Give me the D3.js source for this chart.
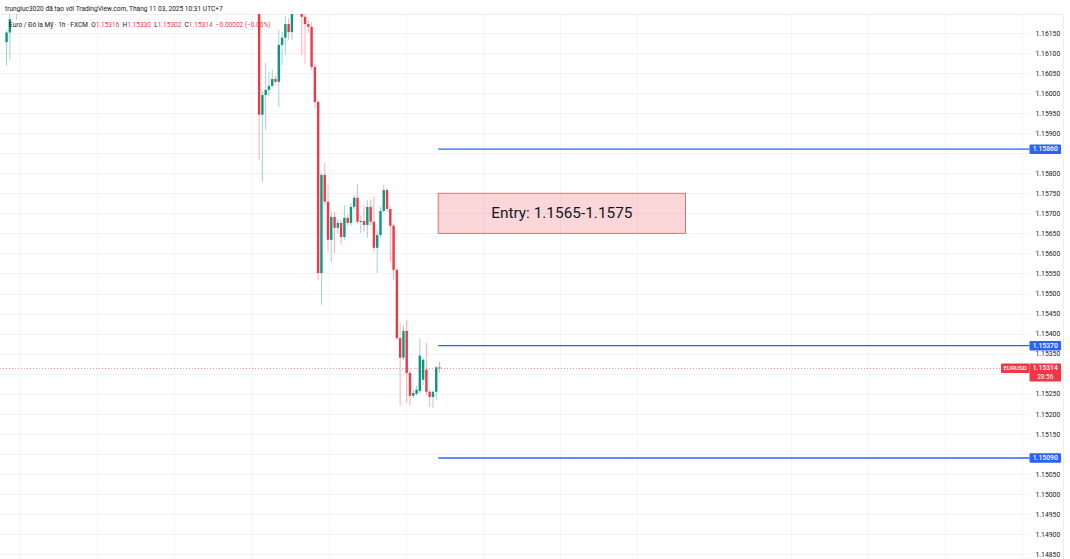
<!DOCTYPE html>
<html><head><meta charset="utf-8">
<script src="https://cdn.jsdelivr.net/npm/d3@7"></script>
<style>
html,body{margin:0;padding:0;background:#fff;}
svg{display:block;font-family:Roboto,'Liberation Sans',sans-serif;}
</style></head><body>
<svg id="chart" width="1070" height="559"></svg>
<script>
// ---------- data ----------
const candleIndex = [-77,-76,-74,
  0,1,2,3,4,5,6,7,8,9,10,
  13,14,15,16,17,18,19,20,21,22,23,24,25,26,27,28,29,30,31,32,33,34,
  35,36,37,38,39,40,41,42,43,44,45,46,47,48,49,50,51,52,53,54,55];
const openPrices = [1.16127,1.16151,1.16265,
  1.16265,1.15946,1.15995,1.16008,1.16018,1.16035,1.16028,1.16120,1.16138,1.16172,1.16152,
  1.16250,1.16190,1.16172,1.16165,1.16065,1.15978,1.15551,1.15796,1.15729,1.15634,1.15691,1.15664,1.15676,1.15641,1.15689,1.15676,1.15716,1.15739,1.15679,1.15681,1.15671,1.15716,
  1.15679,1.15614,1.15646,1.15706,1.15758,1.15711,1.15669,1.15559,1.15389,1.15340,1.15407,1.15302,1.15245,1.15250,1.15257,1.15285,1.15310,1.15255,1.15242,1.15255,1.15316];
const highPrices = [1.16157,1.16215,1.16290,
  1.16290,1.16005,1.16075,1.16053,1.16058,1.16043,1.16157,1.16152,1.16192,1.16187,1.16260,
  1.16270,1.16205,1.16182,1.16177,1.16073,1.15983,1.15801,1.15826,1.15771,1.15704,1.15704,1.15686,1.15684,1.15721,1.15699,1.15726,1.15746,1.15773,1.15694,1.15719,1.15734,1.15734,
  1.15741,1.15659,1.15716,1.15771,1.15763,1.15719,1.15674,1.15564,1.15427,1.15422,1.15434,1.15310,1.15260,1.15270,1.15389,1.15340,1.15377,1.15260,1.15257,1.15320,1.15330];
const lowPrices = [1.16068,1.16083,1.16182,
  1.15833,1.15778,1.15908,1.15993,1.16013,1.16023,1.15965,1.16070,1.16095,1.16133,1.16133,
  1.16095,1.16073,1.16150,1.16058,1.15963,1.15534,1.15472,1.15721,1.15604,1.15579,1.15601,1.15651,1.15621,1.15634,1.15669,1.15669,1.15709,1.15674,1.15651,1.15654,1.15639,1.15669,
  1.15604,1.15551,1.15641,1.15701,1.15704,1.15579,1.15534,1.15384,1.15220,1.15335,1.15227,1.15220,1.15240,1.15245,1.15250,1.15272,1.15247,1.15217,1.15215,1.15235,1.15302];
const closePrices = [1.16151,1.16184,1.16212,
  1.15946,1.15995,1.16008,1.16018,1.16035,1.16028,1.16120,1.16138,1.16172,1.16152,1.16240,
  1.16190,1.16172,1.16165,1.16065,1.15978,1.15551,1.15796,1.15729,1.15634,1.15691,1.15664,1.15676,1.15641,1.15689,1.15676,1.15716,1.15739,1.15679,1.15681,1.15671,1.15716,1.15679,
  1.15614,1.15646,1.15706,1.15758,1.15711,1.15669,1.15559,1.15389,1.15340,1.15407,1.15302,1.15245,1.15252,1.15260,1.15345,1.15335,1.15255,1.15242,1.15255,1.15316,1.15314];

const priceTicks = [1.16150,1.16100,1.16050,1.16000,1.15950,1.15900,1.15850,1.15800,1.15750,1.15700,
  1.15650,1.15600,1.15550,1.15500,1.15450,1.15400,1.15350,1.15300,1.15250,1.15200,1.15150,1.15100,
  1.15050,1.15000,1.14950,1.14900,1.14850];
const timeGridBars = [-72.8,-49.3,-25.8,-2.3,21.2,44.7,68.2,91.7,115.2,162.2,185.7,209.2,232.7];
const levelPrices = [1.15860, 1.15370, 1.15090];
const entryZone = [1.1565, 1.1575];
const entryBars = [54.6, 130];
const lastBar = 54.6;
const lastPrice = 1.15314;

const headerCredit = "trungluc3020 đã tạo với TradingView.com, Tháng 11 03, 2025 10:31 UTC+7";
const symbolTitle = "Euro / Đô la Mỹ · 1h · FXCM";
const ohlcLabels = ["O","H","L","C"];
const ohlcValues = ["1.15316","1.15330","1.15302","1.15314"];
const changeText = "−0.00002 (−0.00%)";
const symbolCode = "EURUSD";
const countdown = "28:56";
const entryLabel = "Entry: 1.1565-1.1575";

// ---------- setup ----------
const W = 1070, H = 559, paneTop = 14, paneRight = 1029.5, axisRight = 1063;
const UP = "#089981", DOWN = "#F23645", BLUE = "#2962FF", TXT = "#131722";

const svg = d3.select("#chart");
const x = d3.scaleLinear().domain([-79, 235]).range([0, 1029.9]);
const y = d3.scaleLinear().domain([1.14838, 1.16232]).range([H, 0]);

const candles = candleIndex.map((d, i) => ({
  i: d, o: openPrices[i], h: highPrices[i], l: lowPrices[i], c: closePrices[i]
}));

svg.append("rect").attr("width", W).attr("height", H).attr("fill", "#fff");

svg.append("defs").append("clipPath").attr("id", "pane")
  .append("rect").attr("x", 0).attr("y", paneTop).attr("width", paneRight).attr("height", H - paneTop);

// grid
const grid = svg.append("g");
grid.selectAll("line.h").data(priceTicks).join("line")
  .attr("x1", 0).attr("x2", paneRight)
  .attr("y1", d => Math.round(y(d)) + 0.5).attr("y2", d => Math.round(y(d)) + 0.5)
  .attr("stroke", "#f1f3f7").attr("stroke-width", 1);
grid.selectAll("line.v").data(timeGridBars).join("line")
  .attr("x1", d => Math.round(x(d)) + 0.5).attr("x2", d => Math.round(x(d)) + 0.5)
  .attr("y1", paneTop).attr("y2", H)
  .attr("stroke", "#f4f5f8").attr("stroke-width", 1);

// pane border
svg.append("line").attr("x1", 0).attr("x2", axisRight).attr("y1", paneTop + 0.5).attr("y2", paneTop + 0.5)
  .attr("stroke", "#eceef2");
svg.append("line").attr("x1", axisRight + 0.5).attr("x2", axisRight + 0.5).attr("y1", paneTop).attr("y2", H)
  .attr("stroke", "#eceef2");

// candles
const cg = svg.append("g").attr("clip-path", "url(#pane)");
const col = d => d.c >= d.o ? UP : DOWN;
cg.selectAll("line.wick").data(candles).join("line")
  .attr("x1", d => x(d.i)).attr("x2", d => x(d.i))
  .attr("y1", d => y(d.h)).attr("y2", d => y(d.l))
  .attr("stroke", col).attr("stroke-opacity", 0.4).attr("stroke-width", 1);
cg.selectAll("rect.body").data(candles).join("rect")
  .attr("x", d => x(d.i) - 1.2).attr("width", 2.4)
  .attr("y", d => y(Math.max(d.o, d.c)))
  .attr("height", d => Math.max(1, Math.abs(y(d.o) - y(d.c))))
  .attr("fill", col);

// entry zone
const ez = svg.append("g");
ez.append("rect")
  .attr("x", x(entryBars[0])).attr("width", x(entryBars[1]) - x(entryBars[0]))
  .attr("y", y(entryZone[1])).attr("height", y(entryZone[0]) - y(entryZone[1]))
  .attr("fill", "rgba(242,54,69,0.2)").attr("stroke", "#ec6a74").attr("stroke-width", 1);
ez.append("text")
  .attr("x", (x(entryBars[0]) + x(entryBars[1])) / 2)
  .attr("y", (y(entryZone[0]) + y(entryZone[1])) / 2)
  .attr("text-anchor", "middle").attr("dominant-baseline", "central")
  .attr("font-size", 15.4).attr("fill", TXT).text(entryLabel);

// last price dotted line
svg.append("line")
  .attr("x1", 0).attr("x2", 1001)
  .attr("y1", Math.round(y(lastPrice)) + 0.5).attr("y2", Math.round(y(lastPrice)) + 0.5)
  .attr("stroke", DOWN).attr("stroke-opacity", 0.55).attr("stroke-dasharray", "1,2");

// horizontal levels
svg.append("g").selectAll("line").data(levelPrices).join("line")
  .attr("x1", x(lastBar)).attr("x2", paneRight)
  .attr("y1", d => y(d)).attr("y2", d => y(d))
  .attr("stroke", BLUE).attr("stroke-width", 1.4);

// price axis (labels hidden behind the price boxes are not drawn)
const boxed = levelPrices.concat([lastPrice, lastPrice - 0.00022]);
const visibleTicks = priceTicks.filter(t => boxed.every(b => Math.abs(y(t) - y(b)) > 7.5));
const axis = svg.append("g").attr("transform", `translate(${paneRight},0)`)
  .call(d3.axisRight(y).tickValues(visibleTicks).tickFormat(d3.format(".5f")).tickSize(0).tickPadding(6));
axis.select(".domain").remove();
axis.selectAll("text").attr("font-size", 6.8).attr("fill", TXT).attr("font-family", "Roboto,'Liberation Sans',sans-serif");

// level labels
const lab = svg.append("g");
levelPrices.forEach(p => {
  lab.append("rect").attr("x", paneRight).attr("width", 31.5)
    .attr("y", y(p) - 4.75).attr("height", 9.5).attr("rx", 1).attr("fill", BLUE);
  lab.append("text").attr("x", paneRight + 15.75).attr("y", y(p) + 0.3)
    .attr("text-anchor", "middle").attr("dominant-baseline", "central")
    .attr("font-size", 6.8).attr("font-weight", 500).attr("fill", "#fff").text(d3.format(".5f")(p));
});

// last price labels
const ly = y(lastPrice);
lab.append("rect").attr("x", 1001).attr("width", paneRight - 1001)
  .attr("y", ly - 4.5).attr("height", 9.5).attr("rx", 1).attr("fill", DOWN);
lab.append("text").attr("x", (1001 + paneRight) / 2).attr("y", ly + 0.3)
  .attr("text-anchor", "middle").attr("dominant-baseline", "central")
  .attr("font-size", 6.2).attr("font-weight", 500).attr("fill", "#fff").text(symbolCode);
lab.append("rect").attr("x", paneRight).attr("width", 31.5)
  .attr("y", ly - 4.5).attr("height", 18).attr("rx", 1).attr("fill", DOWN);
lab.append("text").attr("x", paneRight + 15.75).attr("y", ly + 0.3)
  .attr("text-anchor", "middle").attr("dominant-baseline", "central")
  .attr("font-size", 6.8).attr("font-weight", 500).attr("fill", "#fff").text(d3.format(".5f")(lastPrice));
lab.append("text").attr("x", paneRight + 15.75).attr("y", ly + 9)
  .attr("text-anchor", "middle").attr("dominant-baseline", "central")
  .attr("font-size", 6.5).attr("fill", "#fff").text(countdown);

// header texts, fitted to their measured widths
function fit(sel, target) {
  const w = sel.node().getComputedTextLength();
  const fs = parseFloat(sel.attr("font-size"));
  sel.attr("font-size", fs * target / w);
}
const h1 = svg.append("text").attr("x", 5).attr("y", 10.5).attr("font-size", 10)
  .attr("fill", TXT).text(headerCredit);
fit(h1, 218);

const h2 = svg.append("text").attr("x", 9).attr("y", 26.5).attr("font-size", 10).attr("fill", TXT);
h2.append("tspan").text(symbolTitle);
ohlcLabels.forEach((l, i) => {
  h2.append("tspan").attr("fill", TXT).text("  " + l);
  h2.append("tspan").attr("fill", DOWN).text(ohlcValues[i]);
});
h2.append("tspan").attr("fill", DOWN).text("  " + changeText);
h2.attr("xml:space", "preserve").style("white-space", "pre");
fit(h2, 262);
</script>
</body></html>
